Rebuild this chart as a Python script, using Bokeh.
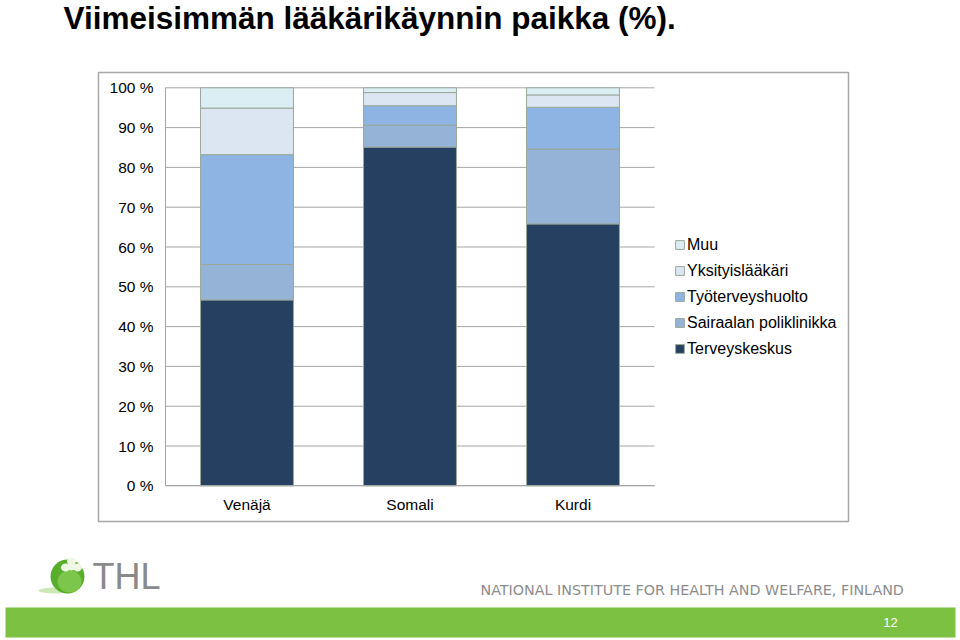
from bokeh.plotting import figure
from bokeh.models import (ColumnDataSource, Range1d, FixedTicker, Legend, LegendItem,
                          LinearAxis)
from bokeh.core.properties import value
from bokeh.embed import file_html
from bokeh.resources import INLINE

# ---- data ----
categories = ["Venäjä", "Somali", "Kurdi"]
terveyskeskus = [46.7, 85.1, 65.8]
sairaalan_poliklinikka = [8.9, 5.5, 18.8]
tyoterveyshuolto = [27.6, 4.9, 10.5]
yksityislaakari = [11.7, 3.3, 3.1]
muu = [5.1, 1.2, 1.8]
series_names = ["Terveyskeskus", "Sairaalan poliklinikka", "Työterveyshuolto",
                "Yksityislääkäri", "Muu"]
series_keys = ["terveyskeskus", "sairaalan", "tyoterveys", "yksityis", "muu"]
series_colors = ["#254061", "#95B3D7", "#8DB4E2", "#DCE6F2", "#DBEEF4"]
y_ticks = [0, 10, 20, 30, 40, 50, 60, 70, 80, 90, 100]
y_tick_labels = ["0 %", "10 %", "20 %", "30 %", "40 %", "50 %", "60 %", "70 %",
                 "80 %", "90 %", "100 %"]
title_text = "Viimeisimmän lääkärikäynnin paikka (%)."
footer_text = "NATIONAL INSTITUTE FOR HEALTH AND WELFARE, FINLAND"
logo_text = "THL"
page_number = "12"

# category slots on a numeric scale (slot i centred at i + 0.5)
n_cat = len(categories)
x_pos = [i + 0.5 for i in range(n_cat)]

source = ColumnDataSource(data=dict(
    x=x_pos,
    terveyskeskus=terveyskeskus,
    sairaalan=sairaalan_poliklinikka,
    tyoterveys=tyoterveyshuolto,
    yksityis=yksityislaakari,
    muu=muu,
))

FONT = "Liberation Sans"
GRID = "#A6A6A6"
W, H = 960, 640

# page layout (pixels): plot area left/right/top/bottom
PA_L, PA_R, PA_T, PA_B = 165.0, 654.0, 87.3, 485.3
sx = (PA_R - PA_L) / n_cat          # px per category slot
sy = (PA_B - PA_T) / 100.0          # px per percent
x_range = Range1d(-PA_L / sx, (W - PA_L) / sx)
y_range = Range1d(-(H - PA_B) / sy, PA_B / sy)

p = figure(width=W, height=H, x_range=x_range, y_range=y_range,
           output_backend="svg", toolbar_location=None, title=None,
           x_axis_location=None, y_axis_location=None, min_border=0)
p.outline_line_color = None
p.background_fill_color = "white"
p.border_fill_color = "white"
p.grid.visible = False
p.extra_x_ranges = {"px": Range1d(0, W)}
p.extra_y_ranges = {"py": Range1d(H, 0)}

# outer chart frame (decoration, page pixels)
p.quad(left=[98], right=[848], top=[72], bottom=[521], fill_color="white",
       line_color="#A8A8A8", line_width=1.5, x_range_name="px", y_range_name="py")

# horizontal gridlines across the category slots
p.segment(x0=[0] * len(y_ticks), x1=[n_cat] * len(y_ticks), y0=y_ticks, y1=y_ticks,
          line_color=GRID, line_width=1)

renderers = p.vbar_stack(series_keys, x="x", width=0.57, source=source,
                         color=series_colors, line_color="#9AA89A", line_width=1)
for r, c in zip(renderers, series_colors):
    r.glyph.fill_color = c
    r.glyph.line_color = "#9AA89A"

# axes drawn at fixed locations inside the page
yaxis = LinearAxis(fixed_location=0, bounds=(0, 100), ticker=FixedTicker(ticks=y_ticks),
                   major_label_overrides={t: l for t, l in zip(y_ticks, y_tick_labels)},
                   major_tick_out=0, major_tick_in=0, minor_tick_out=0, minor_tick_in=0,
                   major_label_standoff=12, axis_line_color=GRID,
                   major_label_text_font=FONT, major_label_text_font_size="15.5px",
                   major_label_text_color="black")
xaxis = LinearAxis(fixed_location=0, bounds=(0, n_cat), ticker=FixedTicker(ticks=x_pos),
                   major_label_overrides={x: c for x, c in zip(x_pos, categories)},
                   major_tick_out=0, major_tick_in=0, minor_tick_out=0, minor_tick_in=0,
                   major_label_standoff=10, axis_line_color=GRID,
                   major_label_text_font=FONT, major_label_text_font_size="15.5px",
                   major_label_text_color="black")
p.add_layout(yaxis, "left")
p.add_layout(xaxis, "below")

# legend
items = [LegendItem(label=n, renderers=[r]) for n, r in zip(series_names, renderers)][::-1]
legend = Legend(items=items, location=(674, H - 358.5), padding=0, margin=0,
                border_line_color=None, background_fill_alpha=0,
                glyph_width=11, glyph_height=11, label_height=20, spacing=6,
                label_standoff=2, label_text_font=FONT, label_text_font_size="16px",
                label_text_color="black")
p.add_layout(legend, "center")

# title
p.text(x=[63], y=[17.5], text=[title_text], text_font=value(FONT), text_font_style="bold",
       text_font_size="31.5px", text_color="black", text_baseline="middle",
       x_range_name="px", y_range_name="py")

# footer band and page number
p.quad(left=[5], right=[955], top=[607], bottom=[637], fill_color="#7CC142",
       line_color=None, x_range_name="px", y_range_name="py")
p.text(x=[890], y=[622], text=[page_number], text_font=value(FONT), text_font_size="13px",
       text_color="white", text_align="center", text_baseline="middle",
       x_range_name="px", y_range_name="py")
p.text(x=[480], y=[589], text=[footer_text], text_font=value("DejaVu Sans"),
       text_font_size="14.3px", text_color="#8C8C8C", text_baseline="middle",
       x_range_name="px", y_range_name="py")

# THL logo
p.ellipse(x=[54], y=[590], width=[32], height=[6], fill_color="#CDE8B5", line_color=None,
          x_range_name="px", y_range_name="py")
p.ellipse(x=[67], y=[576], width=[34], height=[34], fill_color="#58AE2A", line_color=None,
          x_range_name="px", y_range_name="py")
p.ellipse(x=[69], y=[581], width=[24], height=[22], fill_color="#86CC55", fill_alpha=0.8,
          line_color=None, x_range_name="px", y_range_name="py")
p.ellipse(x=[71, 65, 77, 71], y=[561, 567, 567, 566], width=[9, 9, 9, 8],
          height=[8, 8, 8, 8], fill_color="#EEF8E4", line_color=None,
          x_range_name="px", y_range_name="py")
p.text(x=[92], y=[576], text=[logo_text], text_font=value(FONT), text_font_size="36px",
       text_color="#8A8A8A", text_baseline="middle",
       x_range_name="px", y_range_name="py")

open("out.html", "w").write(file_html(p, INLINE))
